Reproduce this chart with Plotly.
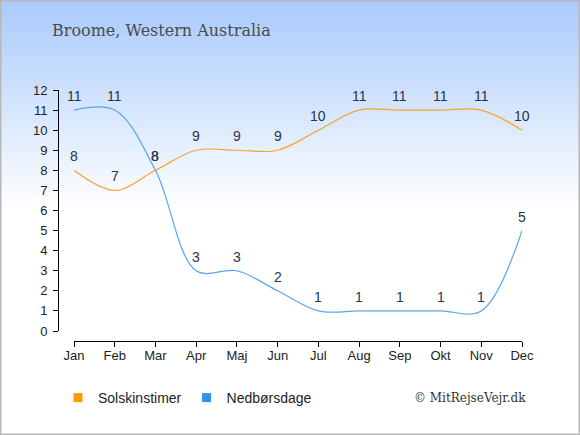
import plotly.graph_objects as go

months = ["Jan", "Feb", "Mar", "Apr", "Maj", "Jun", "Jul", "Aug", "Sep", "Okt", "Nov", "Dec"]
sun_hours = [8, 7, 8, 9, 9, 9, 10, 11, 11, 11, 11, 10]
rain_days = [11, 11, 8, 3, 3, 2, 1, 1, 1, 1, 1, 5]

W, H = 580, 435
orange_line = "#f5a52c"
blue_line = "#58a6ee"
label_color = "#27344f"

fig = go.Figure()

# background gradient on the first (hidden) subplot so it draws underneath
fig.add_trace(go.Scatter(
    x=[0, 1, 1, 0, 0], y=[0, 0, 1, 1, 0], xaxis="x", yaxis="y",
    mode="none", fill="toself", hoverinfo="skip", showlegend=False,
    fillgradient=dict(type="vertical", start=0, stop=1,
                      colorscale=[[0, "#ffffff"], [0.52, "#ffffff"], [1, "#a8cafc"]]),
))

fig.add_trace(go.Scatter(
    x=months, y=sun_hours, xaxis="x2", yaxis="y2", mode="lines",
    line=dict(color=orange_line, width=1.2, shape="spline", smoothing=1),
    showlegend=False, hoverinfo="skip",
))
fig.add_trace(go.Scatter(
    x=months, y=rain_days, xaxis="x2", yaxis="y2", mode="lines",
    line=dict(color=blue_line, width=1.2, shape="spline", smoothing=1),
    showlegend=False, hoverinfo="skip",
))

# legend entries with square markers
fig.add_trace(go.Scatter(x=[None], y=[None], xaxis="x2", yaxis="y2", mode="markers",
                         marker=dict(symbol="square", size=9, color="#ff9a00"),
                         name="Solskinstimer"))
fig.add_trace(go.Scatter(x=[None], y=[None], xaxis="x2", yaxis="y2", mode="markers",
                         marker=dict(symbol="square", size=9, color="#2f93e8"),
                         name="Nedbørsdage"))

annotations = []
for series in (sun_hours, rain_days):
    for m, v in zip(months, series):
        annotations.append(dict(x=m, y=v, xref="x2", yref="y2", text=str(v),
                                showarrow=False, yshift=14,
                                font=dict(family="Liberation Sans", size=14, color=label_color)))

annotations.append(dict(x=50 / W, y=1 - 31 / H, xref="paper", yref="paper",
                        xanchor="left", yanchor="middle", showarrow=False,
                        text="Broome, Western Australia",
                        font=dict(family="DejaVu Serif", size=16, color="#4a4a4a")))
annotations.append(dict(x=528 / W, y=1 - 398 / H, xref="paper", yref="paper",
                        xanchor="right", yanchor="middle", showarrow=False,
                        text="© MitRejseVejr.dk",
                        font=dict(family="DejaVu Serif", size=12, color="#333333")))

fig.update_layout(
    width=W, height=H,
    margin=dict(l=0, r=0, t=0, b=0, pad=0),
    paper_bgcolor="white",
    plot_bgcolor="rgba(0,0,0,0)",
    font=dict(family="Liberation Sans", size=12, color="#222222"),
    xaxis=dict(domain=[0, 1], range=[0, 1], visible=False, fixedrange=True, automargin=False),
    yaxis=dict(domain=[0, 1], range=[0, 1], visible=False, fixedrange=True, automargin=False),
    xaxis2=dict(domain=[74 / W, 522 / W], range=[0, 11], anchor="free", position=1 - 341 / H,
                showline=True, linecolor="black", linewidth=1, ticks="outside", ticklen=5,
                tickcolor="black", showgrid=False, zeroline=False, automargin=False,
                ticklabelstandoff=-3,
                tickfont=dict(size=13, color="#222222")),
    yaxis2=dict(domain=[1 - 331 / H, 1 - 90 / H], range=[0, 12], anchor="free", position=58 / W,
                showline=True, linecolor="black", linewidth=1, ticks="outside", ticklen=5,
                tickcolor="black", dtick=1, showgrid=False, zeroline=False, automargin=False,
                ticklabelstandoff=3,
                tickfont=dict(size=13, color="#222222")),
    legend=dict(orientation="h", x=58 / W, y=1 - 398 / H, xanchor="left", yanchor="middle",
                bgcolor="rgba(0,0,0,0)", font=dict(size=14, color="#222222"),
                itemwidth=30, traceorder="normal"),
    annotations=annotations,
    shapes=[dict(type="rect", xref="paper", yref="paper", x0=0, y0=0, x1=1, y1=1,
                 line=dict(color="#b8b8b8", width=3))],
)

fig.write_html("out.html", config={"displayModeBar": False},
               post_script="document.body.style.margin = '0px';")
